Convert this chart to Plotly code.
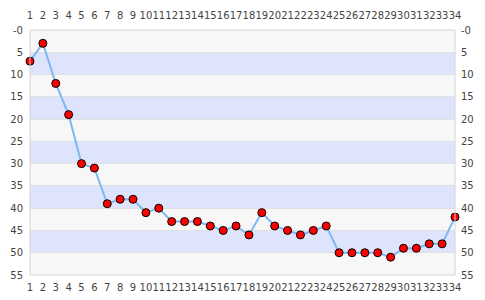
import plotly.graph_objects as go

x_vals = list(range(1, 35))
y_vals = [7, 3, 12, 19, 30, 31, 39, 38, 38, 41, 40, 43, 43, 43, 44, 45, 44, 46,
          41, 44, 45, 46, 45, 44, 50, 50, 50, 50, 51, 49, 49, 48, 48, 42]
y_ticks = [0, 5, 10, 15, 20, 25, 30, 35, 40, 45, 50, 55]
y_tick_text = ["-0", "5", "10", "15", "20", "25", "30", "35", "40", "45", "50", "55"]
x_tick_text = [str(v) for v in x_vals]

font = dict(family="DejaVu Sans", size=10, color="#444444")

fig = go.Figure()
fig.add_trace(go.Scatter(
    x=x_vals, y=y_vals, mode="lines+markers",
    line=dict(color="#7db8f2", width=2),
    marker=dict(color="#ff0000", size=8, line=dict(color="#000000", width=1)),
    cliponaxis=False, showlegend=False, hoverinfo="x+y",
))
fig.add_trace(go.Scatter(x=[x_vals[0]], y=[y_ticks[0]], xaxis="x2", yaxis="y2",
                         mode="markers", marker=dict(opacity=0), showlegend=False,
                         hoverinfo="skip"))

shapes = []
for i in range(len(y_ticks) - 1):
    shapes.append(dict(
        type="rect", xref="paper", yref="y", x0=0, x1=1,
        y0=y_ticks[i], y1=y_ticks[i + 1],
        fillcolor="#f7f7f7" if i % 2 == 0 else "#dde4fc",
        line=dict(width=0), layer="below",
    ))
shapes.append(dict(type="rect", xref="paper", yref="paper", x0=0, x1=1, y0=0, y1=1,
                   line=dict(color="#d4d4d4", width=1), fillcolor="rgba(0,0,0,0)",
                   layer="above"))

xr = [x_vals[0], x_vals[-1]]
yr = [y_ticks[-1], y_ticks[0]]
fig.update_layout(
    width=485, height=300,
    margin=dict(l=30, r=30, t=30, b=25),
    paper_bgcolor="#ffffff", plot_bgcolor="rgba(0,0,0,0)",
    font=font,
    shapes=shapes,
    xaxis=dict(range=xr, tickvals=x_vals, ticktext=x_tick_text, showgrid=False,
               zeroline=False, showline=False, tickfont=font, tickangle=0,
               ticklabelstandoff=5, automargin=False, fixedrange=True),
    xaxis2=dict(range=xr, tickvals=x_vals, ticktext=x_tick_text, overlaying="x",
                side="top", showgrid=False, zeroline=False, showline=False,
                tickfont=font, tickangle=0, ticklabelstandoff=8, automargin=False,
                fixedrange=True),
    yaxis=dict(range=yr, tickvals=y_ticks, ticktext=y_tick_text, showgrid=True,
               gridcolor="#e0e0e0", gridwidth=1, zeroline=False, showline=False,
               tickfont=font, ticklabelstandoff=6, automargin=False, fixedrange=True),
    yaxis2=dict(range=yr, tickvals=y_ticks, ticktext=y_tick_text, overlaying="y",
                side="right", showgrid=False, zeroline=False, showline=False,
                tickfont=font, ticklabelstandoff=5, automargin=False, fixedrange=True),
)

fig.write_html("out.html")
